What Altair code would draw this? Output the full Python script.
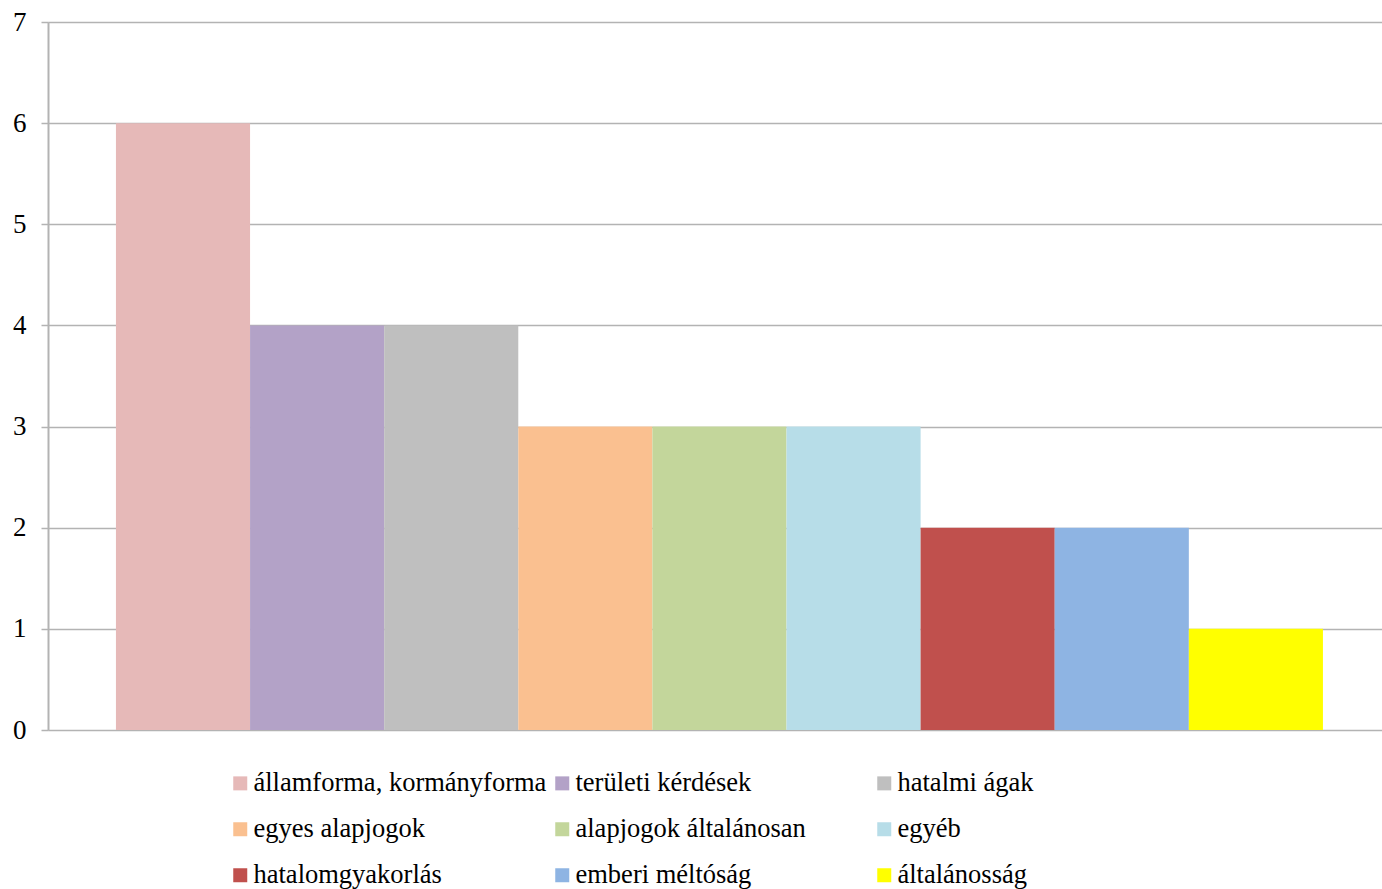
import altair as alt
import pandas as pd

categories = [
    "államforma, kormányforma",
    "területi kérdések",
    "hatalmi ágak",
    "egyes alapjogok",
    "alapjogok általánosan",
    "egyéb",
    "hatalomgyakorlás",
    "emberi méltóság",
    "általánosság",
]
values = [6, 4, 4, 3, 3, 3, 2, 2, 1]
colors = ["#E6B9B8", "#B3A2C7", "#BFBFBF", "#FAC090", "#C3D69B",
          "#B7DDE8", "#C0504D", "#8EB4E3", "#FFFF00"]
y_ticks = [0, 1, 2, 3, 4, 5, 6, 7]

df = pd.DataFrame({"kategoria": categories, "ertek": values})

FONT = "Liberation Serif"

chart = alt.Chart(df).mark_bar(strokeWidth=0).encode(
    x=alt.X("kategoria:N", sort=categories, axis=None,
            scale=alt.Scale(paddingInner=0, paddingOuter=0.4735, align=0.535)),
    y=alt.Y("ertek:Q",
            scale=alt.Scale(domain=[0, 7], nice=False, zero=True),
            axis=alt.Axis(values=y_ticks, title=None, format="d",
                          labelFont=FONT, labelFontSize=27, labelColor="#000000",
                          labelPadding=15, tickSize=7, tickColor="#b3b3b3",
                          tickWidth=1.5, domainColor="#b3b3b3", domainWidth=2,
                          gridColor="#b3b3b3", gridWidth=1.5)),
    color=alt.Color("kategoria:N",
                    scale=alt.Scale(domain=categories, range=colors),
                    legend=alt.Legend(title=None, orient="none", legendX=179,
                                      legendY=748, columns=3, direction="horizontal",
                                      gridAlign="all", columnPadding=2, rowPadding=19,
                                      symbolType="square", symbolSize=196,
                                      symbolStrokeWidth=0, labelFont=FONT,
                                      labelFontSize=26.5, labelColor="#000000",
                                      labelOffset=0, labelLimit=400)),
).properties(
    width=1334, height=708,
    autosize=alt.AutoSizeParams(type="none"),
    padding={"left": 48, "top": 22, "right": 0, "bottom": 159},
).configure_view(stroke=None).configure(background="#ffffff")

chart.save("out.html", embed_options={"renderer": "svg", "actions": False})
